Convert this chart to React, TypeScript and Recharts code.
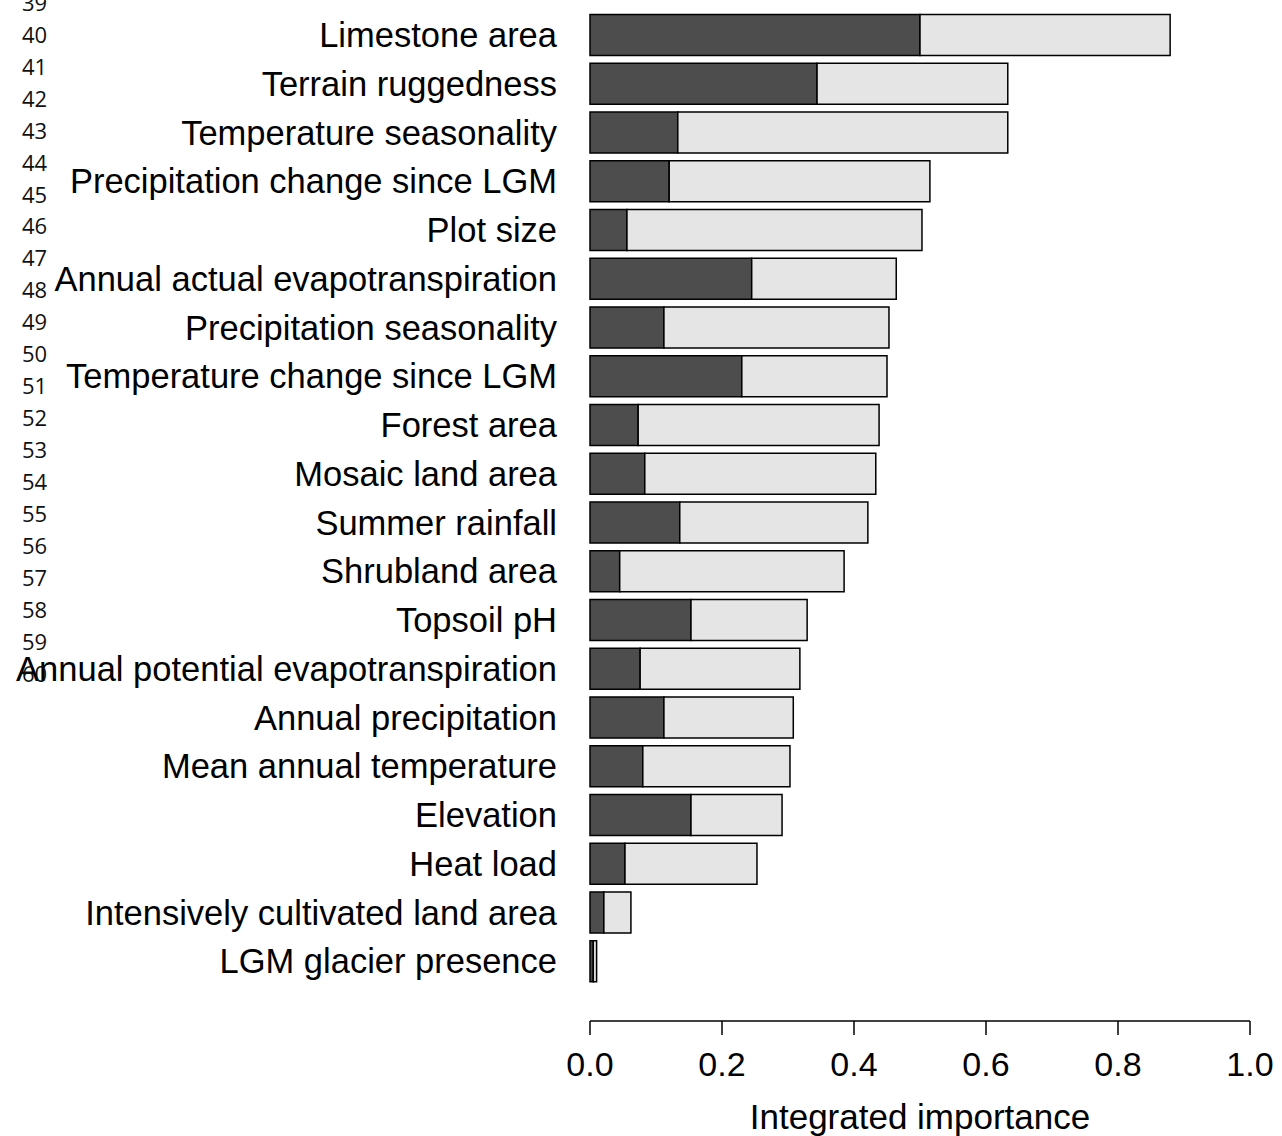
import React from 'react';
import { BarChart, Bar, XAxis, YAxis, Label } from 'recharts';

// predictor names, top to bottom
const predictors = [
  'Limestone area',
  'Terrain ruggedness',
  'Temperature seasonality',
  'Precipitation change since LGM',
  'Plot size',
  'Annual actual evapotranspiration',
  'Precipitation seasonality',
  'Temperature change since LGM',
  'Forest area',
  'Mosaic land area',
  'Summer rainfall',
  'Shrubland area',
  'Topsoil pH',
  'Annual potential evapotranspiration',
  'Annual precipitation',
  'Mean annual temperature',
  'Elevation',
  'Heat load',
  'Intensively cultivated land area',
  'LGM glacier presence',
];

// dark part of each bar
const darkPart = [
  0.5, 0.344, 0.133, 0.12, 0.056, 0.245, 0.112, 0.23, 0.073, 0.083,
  0.136, 0.045, 0.153, 0.076, 0.112, 0.08, 0.153, 0.053, 0.021, 0.005,
];

// full bar length (integrated importance)
const totalImportance = [
  0.879, 0.633, 0.633, 0.515, 0.503, 0.464, 0.453, 0.45, 0.438, 0.433,
  0.421, 0.385, 0.329, 0.318, 0.308, 0.303, 0.291, 0.253, 0.062, 0.01,
];

const xTicks = [0, 0.2, 0.4, 0.6, 0.8, 1.0];

// manuscript line numbers in the left margin
const lineNumbers = [
  39, 40, 41, 42, 43, 44, 45, 46, 47, 48, 49, 50, 51, 52, 53, 54, 55, 56, 57, 58, 59, 60,
];

const data = predictors.map((name, i) => ({
  name,
  dark: darkPart[i],
  rest: +(totalImportance[i] - darkPart[i]).toFixed(3),
}));

const font = '"Liberation Sans", Arial, Helvetica, sans-serif';

export default function App() {
  return (
    <div style={{ position: 'absolute', left: 0, top: 0, width: 1282, height: 1136, background: '#fff' }}>
      <BarChart
        width={1282}
        height={1136}
        data={data}
        layout="vertical"
        margin={{ top: 10.6, right: 32, bottom: 0, left: 0 }}
        barSize={41}
        style={{ fontFamily: font }}
      >
        <XAxis
          type="number"
          domain={[0, 1]}
          ticks={xTicks}
          tickFormatter={(v: number) => v.toFixed(1)}
          height={115}
          tickSize={14}
          tickMargin={17}
          stroke="#000"
          strokeWidth={1.5}
          tick={{ fill: '#000', fontSize: 34, fontFamily: font }}
        >
          <Label
            value="Integrated importance"
            position="insideBottom"
            offset={7}
            style={{ fill: '#000', fontSize: 35, fontFamily: font }}
          />
        </XAxis>
        <YAxis
          type="category"
          dataKey="name"
          width={590}
          interval={0}
          axisLine={false}
          tickLine={false}
          tickSize={0}
          tickMargin={33}
          padding={{ top: 0, bottom: 35.6 }}
          tick={{ fill: '#000', fontSize: 34.5, fontFamily: font }}
        />
        <Bar dataKey="dark" stackId="a" fill="#4d4d4d" stroke="#000" strokeWidth={1.5} isAnimationActive={false} />
        <Bar dataKey="rest" stackId="a" fill="#e5e5e5" stroke="#000" strokeWidth={1.5} isAnimationActive={false} />
      </BarChart>
      <svg
        width={1282}
        height={1136}
        style={{ position: 'absolute', left: 0, top: 0, pointerEvents: 'none' }}
      >
        {lineNumbers.map((n, i) => (
          <text
            key={n}
            x={22}
            y={1.9 + i * 31.94}
            dominantBaseline="central"
            fontFamily='"Open Sans", "Noto Sans", sans-serif'
            fontSize={22}
            fill="#111"
          >
            {n}
          </text>
        ))}
      </svg>
    </div>
  );
}
